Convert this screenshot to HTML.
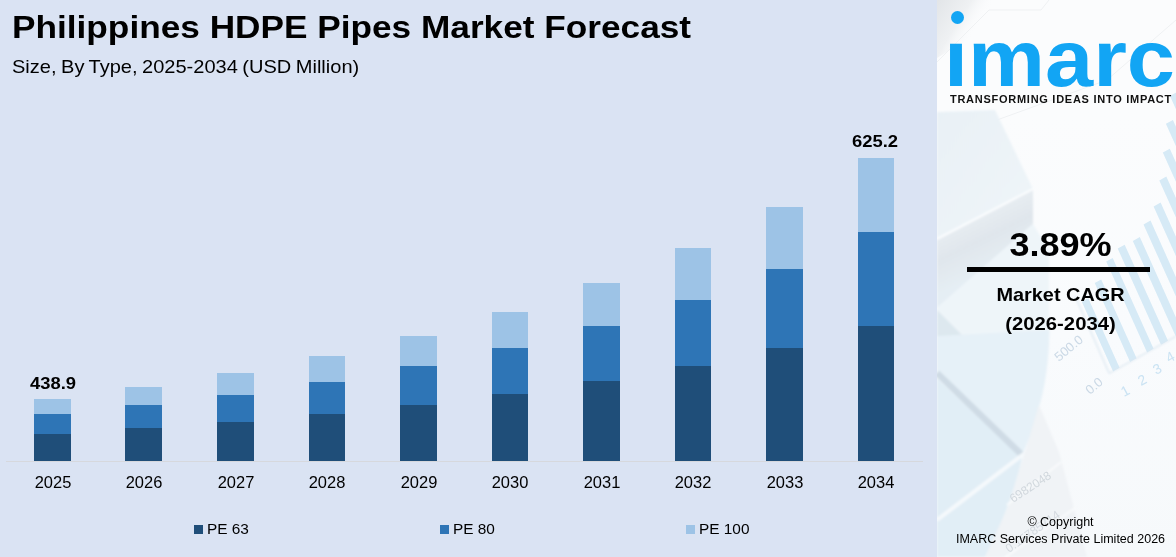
<!DOCTYPE html>
<html><head><meta charset="utf-8">
<style>
html,body{margin:0;padding:0;}
body{width:1176px;height:557px;overflow:hidden;background:#dae3f3;font-family:"Liberation Sans",sans-serif;color:#000;position:relative;}
.abs{position:absolute;white-space:nowrap;}
#left{position:absolute;left:0;top:0;width:937px;height:557px;background:#dae3f3;}
#right{position:absolute;left:937px;top:0;width:239px;height:557px;background:#f6f9fc;overflow:hidden;}
#title{left:12px;top:8px;font-size:31px;font-weight:bold;line-height:40px;transform-origin:0 0;transform:scaleX(1.136);}
#sub{left:12px;top:55px;font-size:18.5px;line-height:24px;word-spacing:-1px;transform-origin:0 0;transform:scaleX(1.083);}
.bar{position:absolute;}
.d{background:#1f4e79;}.m{background:#2e75b6;}.l{background:#9dc3e6;}
.yr{position:absolute;top:473px;width:80px;text-align:center;font-size:15.7px;line-height:20px;transform:scaleX(1.05);}
.val{position:absolute;width:100px;text-align:center;font-size:16px;font-weight:bold;line-height:20px;transform:scaleX(1.15);}
.leg{position:absolute;top:519px;font-size:15.4px;line-height:20px;white-space:nowrap;}
.sq{position:absolute;top:525.2px;width:9px;height:9px;}
#cagr{position:absolute;left:3.8px;width:239px;text-align:center;top:223.5px;font-size:34px;font-weight:bold;line-height:40px;transform:scaleX(1.06);}
#rule{position:absolute;left:30px;top:267px;width:182.5px;height:5.4px;background:#000;}
.mc{position:absolute;left:3.8px;width:239px;text-align:center;font-size:18.5px;font-weight:bold;line-height:24px;}
.cp{position:absolute;left:4px;width:239px;text-align:center;font-size:12.5px;line-height:16px;}
#logo{position:absolute;left:6.5px;top:14.2px;font-size:79.5px;font-weight:bold;line-height:90px;color:#12a5f4;white-space:nowrap;transform-origin:0 0;transform:scaleX(1.089);clip-path:polygon(0 27px,24px 27px,24px 0,100% 0,100% 100%,0 100%);}
#dot{position:absolute;left:14px;top:11px;width:13.4px;height:13.4px;border-radius:50%;background:#12a5f4;}
#tag{position:absolute;left:13px;top:92px;font-size:11px;font-weight:bold;letter-spacing:0.73px;line-height:14px;white-space:nowrap;color:#111;}
</style></head><body>
<div id="left">
<div class="abs" id="title">Philippines HDPE Pipes Market Forecast</div>
<div class="abs" id="sub">Size, By Type, 2025-2034 (USD Million)</div>
<div id="axis" style="position:absolute;left:6px;top:461px;width:917px;height:1px;background:#d6d8dd;"></div>
<div class="bar l" style="left:34px;top:399px;width:37px;height:15px"></div>
<div class="bar m" style="left:34px;top:414px;width:37px;height:20px"></div>
<div class="bar d" style="left:34px;top:434px;width:37px;height:27px"></div>
<div class="yr" style="left:12.5px">2025</div>
<div class="bar l" style="left:125px;top:387px;width:37px;height:18px"></div>
<div class="bar m" style="left:125px;top:405px;width:37px;height:23px"></div>
<div class="bar d" style="left:125px;top:428px;width:37px;height:33px"></div>
<div class="yr" style="left:103.5px">2026</div>
<div class="bar l" style="left:217px;top:373px;width:37px;height:22px"></div>
<div class="bar m" style="left:217px;top:395px;width:37px;height:27px"></div>
<div class="bar d" style="left:217px;top:422px;width:37px;height:39px"></div>
<div class="yr" style="left:195.5px">2027</div>
<div class="bar l" style="left:309px;top:356px;width:36px;height:26px"></div>
<div class="bar m" style="left:309px;top:382px;width:36px;height:32px"></div>
<div class="bar d" style="left:309px;top:414px;width:36px;height:47px"></div>
<div class="yr" style="left:287.0px">2028</div>
<div class="bar l" style="left:400px;top:336px;width:37px;height:30px"></div>
<div class="bar m" style="left:400px;top:366px;width:37px;height:39px"></div>
<div class="bar d" style="left:400px;top:405px;width:37px;height:56px"></div>
<div class="yr" style="left:378.5px">2029</div>
<div class="bar l" style="left:492px;top:312px;width:36px;height:36px"></div>
<div class="bar m" style="left:492px;top:348px;width:36px;height:46px"></div>
<div class="bar d" style="left:492px;top:394px;width:36px;height:67px"></div>
<div class="yr" style="left:470.0px">2030</div>
<div class="bar l" style="left:583px;top:283px;width:37px;height:43px"></div>
<div class="bar m" style="left:583px;top:326px;width:37px;height:55px"></div>
<div class="bar d" style="left:583px;top:381px;width:37px;height:80px"></div>
<div class="yr" style="left:561.5px">2031</div>
<div class="bar l" style="left:675px;top:248px;width:36px;height:52px"></div>
<div class="bar m" style="left:675px;top:300px;width:36px;height:66px"></div>
<div class="bar d" style="left:675px;top:366px;width:36px;height:95px"></div>
<div class="yr" style="left:653.0px">2032</div>
<div class="bar l" style="left:766px;top:207px;width:37px;height:62px"></div>
<div class="bar m" style="left:766px;top:269px;width:37px;height:79px"></div>
<div class="bar d" style="left:766px;top:348px;width:37px;height:113px"></div>
<div class="yr" style="left:744.5px">2033</div>
<div class="bar l" style="left:858px;top:158px;width:36px;height:74px"></div>
<div class="bar m" style="left:858px;top:232px;width:36px;height:94px"></div>
<div class="bar d" style="left:858px;top:326px;width:36px;height:135px"></div>
<div class="yr" style="left:836.0px">2034</div>
<div class="val" style="left:2.5px;top:374.2px">438.9</div>
<div class="val" style="left:825px;top:132px">625.2</div>
<div class="sq d" style="left:194px"></div><div class="leg" style="left:207px">PE 63</div>
<div class="sq m" style="left:440px"></div><div class="leg" style="left:453px">PE 80</div>
<div class="sq l" style="left:686px"></div><div class="leg" style="left:699px">PE 100</div>
</div>
<div id="right">
<svg id="bg" width="239" height="557" viewBox="0 0 239 557" style="position:absolute;left:0;top:0">
<defs>
<filter id="b1" x="-10%" y="-10%" width="120%" height="120%"><feGaussianBlur stdDeviation="0.9"/></filter>
<filter id="b0" x="-10%" y="-10%" width="120%" height="120%"><feGaussianBlur stdDeviation="0.6"/></filter>
<filter id="b3" x="-20%" y="-20%" width="140%" height="140%"><feGaussianBlur stdDeviation="5"/></filter>
<linearGradient id="gtop" x1="0" y1="0" x2="0" y2="1"><stop offset="0" stop-color="#fbfcfd"/><stop offset="0.2" stop-color="#fbfcfd"/><stop offset="0.6" stop-color="#f9fbfd"/><stop offset="1" stop-color="#f6f9fb"/></linearGradient>
<linearGradient id="gcorner" gradientUnits="userSpaceOnUse" x1="0" y1="0" x2="42" y2="26"><stop offset="0" stop-color="#e2e5e8"/><stop offset="0.6" stop-color="#eff1f3"/><stop offset="1" stop-color="#fbfcfd" stop-opacity="0"/></linearGradient>
<linearGradient id="gface" gradientUnits="userSpaceOnUse" x1="40" y1="200" x2="70" y2="262"><stop offset="0" stop-color="#f3f8fb"/><stop offset="0.2" stop-color="#e7edf2"/><stop offset="0.55" stop-color="#e0e6ec"/><stop offset="1" stop-color="#e5eef4"/></linearGradient>
<linearGradient id="gtopface" x1="0" y1="0" x2="1" y2="1"><stop offset="0" stop-color="#e9f1f6"/><stop offset="1" stop-color="#eff5f9"/></linearGradient>
</defs>
<rect width="239" height="557" fill="url(#gtop)"/>
<path d="M0,0 L95,0 L0,58 Z" fill="url(#gcorner)"/>
<g stroke="#eff1f3" stroke-width="1" fill="none"><path d="M0,62 L52,10 L104,10 L120,-10"/><path d="M239,20 L170,80 L60,120"/></g>
<g filter="url(#b1)">
<!-- block -->
<path d="M0,112 L58,110 L96,189 L0,239 Z" fill="url(#gtopface)"/>
<path d="M0,239 L96,189 L96,224 L0,308 Z" fill="url(#gface)"/>
<path d="M0,308 L96,224 L112,250 L112,332 L0,340 Z" fill="#eef5f9"/>
<path d="M0,310 L26,336 L0,340 Z" fill="#dde8ef"/>
<path d="M0,239 L96,189" stroke="#fbfdfe" stroke-width="2" fill="none"/>
<!-- pale pie sectors lower-left -->
<path d="M0,336 L112.5,330 C112,360 108,390 101,410 C98,425 92,440 85,455 L0,373 Z" fill="#e6f1f8"/>
<path d="M0,378 L85,458 C78,490 66,522 48,557 L0,557 Z" fill="#e1eef6"/>
<path d="M0,373 L86,456" stroke="#cfdbe5" stroke-width="6.5" fill="none"/>
<path d="M88,453 L0,520" stroke="#f5f9fc" stroke-width="4" fill="none"/>
<!-- paper -->
<path d="M102,405 L122,452 L150,557 L48,557 L70,509 L88,452 Z" fill="#f0f3f6"/>
<path d="M124,462 L70,505" stroke="#f9fbfc" stroke-width="2"/>
<path d="M138,508 L56,566" stroke="#f9fbfc" stroke-width="2"/>
</g>
<!-- faint bar chart on right -->
<g filter="url(#b0)" fill="#d6eaf6">
<polygon points="144.8,301.8 151.3,298.2 182.6,367.7 176.1,371.4"/>
<polygon points="157.7,283.1 164.2,279.5 199.6,358.3 193.1,361.9"/>
<polygon points="169.2,261.6 175.7,258.0 216.6,348.8 210.1,352.4"/>
<polygon points="180.7,248.6 187.7,244.7 231.0,340.8 224.0,344.7"/>
<polygon points="195.8,240.9 202.8,237.0 245.8,332.6 238.8,336.4"/>
<polygon points="206.5,224.5 213.5,220.6 260.3,324.5 253.3,328.4"/>
<polygon points="216.6,206.4 223.6,202.5 274.8,316.4 267.8,320.3"/>
<polygon points="222.3,180.5 229.3,176.6 288.7,308.6 281.7,312.5"/>
<polygon points="225.8,152.6 232.8,148.7 301.6,301.5 294.6,305.4"/>
<polygon points="228.9,123.8 235.9,119.9 314.4,294.3 307.4,298.2"/>
<polygon points="233.0,96.0 240.0,92.1 327.7,286.9 320.7,290.8"/>
</g>
<g filter="url(#b1)" stroke="#dbe7f0" stroke-width="1.2" fill="none">
<path d="M172,373.6 L239,336.3"/>
<path d="M172,373 L138,296"/>
</g>
<g font-family="Liberation Sans, sans-serif" fill="#c6d5e3" font-size="13" opacity="0.9">
<text transform="translate(122,362) rotate(-40)">500.0</text>
<text transform="translate(153,395) rotate(-40)">0.0</text>
<text transform="translate(187,397) rotate(-28)" fill="#c5e0f2" font-size="14">1</text>
<text transform="translate(204,386) rotate(-28)" fill="#c5e0f2" font-size="14">2</text>
<text transform="translate(219,375) rotate(-28)" fill="#c5e0f2" font-size="14">3</text>
<text transform="translate(232,363) rotate(-28)" fill="#c5e0f2" font-size="14">4</text>
<text transform="translate(76,503) rotate(-33)" fill="#cdd4da" font-size="12">6982048</text>
<text transform="translate(72,553) rotate(-35)" fill="#d1d7dd" font-size="12">0.15785714</text>
</g>
</svg>
<div id="logo">imarc</div>
<div id="dot"></div>
<div id="tag">TRANSFORMING IDEAS INTO IMPACT</div>
<div id="cagr">3.89%</div>
<div id="rule"></div>
<div class="mc" style="top:283.2px;transform:scaleX(1.075)">Market CAGR</div>
<div class="mc" style="top:311.8px;transform:scaleX(1.096)">(2026-2034)</div>
<div class="cp" style="top:514px">© Copyright</div>
<div class="cp" style="top:530.6px">IMARC Services Private Limited 2026</div>
</div>
</body></html>
